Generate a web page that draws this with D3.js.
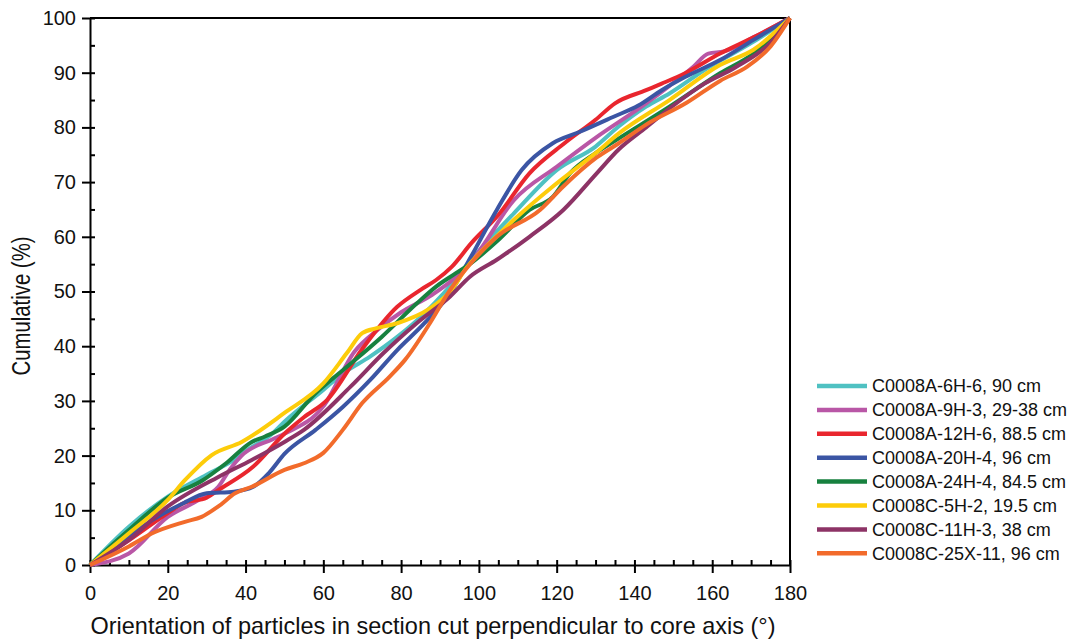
<!DOCTYPE html>
<html>
<head>
<meta charset="utf-8">
<script src="https://cdn.jsdelivr.net/npm/d3@7"></script>
<style>
  body { margin: 0; background: #fff; }
  svg { display: block; font-family: "Liberation Sans", Arial, Helvetica, sans-serif; }
  .axis path, .axis line { stroke: #000; stroke-width: 2; }
  .axis text { fill: #111; }
</style>
</head>
<body>
<main></main>
<script>
// series as [orientation (deg), cumulative (%)]
let s6H6 = [[0,0],[10,7],[20,12.5],[30,16.5],[37,19.2],[40,20.8],[47,24.1],[50,26.2],[60,32],[65,35],[72,38.1],[79,41.7],[86,46],[91,49.7],[98,55.8],[109,64.3],[120,72.2],[130,76.5],[136,80.2],[143,83.8],[149,86.2],[158,90.5],[170,95.4],[180,100]];
let s9H3 = [[0,0],[10,2.1],[20,8.8],[28,11.9],[33,14.3],[36,17.5],[39,20],[47,23],[50,24],[60,29],[68,39],[74,43],[80,46.2],[88,49.4],[93,52],[99,56.4],[109,66.7],[120,72.8],[130,78.1],[143,84.4],[149,87.6],[155,91],[159,93.5],[163,93.9],[171,96.6],[180,100]];
let s12H6 = [[0,0],[10,4.5],[20,9.5],[24,11.3],[30,12.3],[33,13.7],[42,18],[50,24],[55,27],[61,30.2],[70,39.5],[79,47.2],[85,50.3],[89,52.1],[93,54.5],[98,58.8],[105,64],[113,71.6],[122,77.1],[130,81.4],[135,84.4],[143,86.8],[147,88],[153,89.9],[162,93.5],[171,96.6],[180,100]];
let s20H4 = [[0,0],[10,5.3],[16,8.2],[24,11.3],[30,13.1],[37,13.4],[42,14.3],[46,16.8],[50,20.3],[58,24.7],[65,28.9],[72,33.8],[79,39.3],[86,44.2],[92.6,49.7],[98,56.4],[104.6,64.9],[111,72.2],[119,77.1],[126,79.2],[134.5,81.9],[141,84],[147,86.8],[153,89.2],[162,92.3],[170.6,96],[180,100]];
let s24H4 = [[0,0],[10,6.4],[20,12.3],[29,15.5],[35,18.6],[41.6,22.5],[45,23.5],[50,25.3],[58,31.4],[65,35.6],[75,41.7],[84,47.8],[89,50.9],[94,53.3],[98,55.2],[105,59.4],[113,64.9],[119,67.3],[123.4,71.6],[130,75.3],[136,78],[149,83.8],[162,89.9],[170.6,93.5],[180,100]];
let s5H2 = [[0,0],[10,5.8],[20,11.9],[24.4,15.5],[31.3,20.1],[39,22.5],[50,27.8],[60,33.2],[66,38.7],[70,42.4],[73.7,43.3],[79,44.2],[87.4,46.9],[92.6,50],[97,54.5],[103,59],[109,63.1],[119,69.2],[130,75.3],[136,78.9],[149,85],[162,91.4],[170.6,94.2],[180,100]];
let s11H3 = [[0,0],[10,4.6],[20,10.7],[33,16.1],[41.6,19.2],[50,22.5],[55,24.7],[67,32.6],[75.4,38.7],[84,44.2],[92.6,49.1],[97.7,52.7],[104.6,55.8],[113,60],[121.7,64.9],[130.3,71.6],[136,76],[143,80],[150,84],[158,88],[166,91],[175,95.5],[180,100]];
let s25X11 = [[0,0],[10,3.4],[16,5.8],[24.4,7.9],[28.7,8.8],[33,10.7],[37.3,13.1],[41.6,14.3],[50,17.4],[55,18.6],[60,20.5],[65,24.7],[70,29.6],[77,34.4],[81,37.5],[87.4,44.2],[92.6,50.3],[98,55.2],[104.6,60],[115.7,64.9],[121.7,69.2],[130.3,74.5],[136,77.1],[143,80.5],[153.4,84.5],[162,88.5],[169,91.1],[175,94.8],[180,100]];

let seriesNames = [
  'C0008A-6H-6, 90 cm',
  'C0008A-9H-3, 29-38 cm',
  'C0008A-12H-6, 88.5 cm',
  'C0008A-20H-4, 96 cm',
  'C0008A-24H-4, 84.5 cm',
  'C0008C-5H-2, 19.5 cm',
  'C0008C-11H-3, 38 cm',
  'C0008C-25X-11, 96 cm'
];
let seriesValues = [s6H6, s9H3, s12H6, s20H4, s24H4, s5H2, s11H3, s25X11];
let seriesColors = ['#4fc1c2', '#b957a6', '#e9262e', '#3b55a4', '#17813f', '#fdcc0a', '#8d3366', '#f26b2b'];

let xMajorTicks = d3.range(0, 181, 20);
let xMinorTicks = d3.range(0, 181, 5);
let yMajorTicks = d3.range(0, 101, 10);
let yMinorTicks = d3.range(0, 101, 5);

let width = 1077;
let height = 641;
let margin = { top: 18, left: 90, right: 287, bottom: 76 };

let svg = d3.select('main')
  .append('svg')
  .attr('width', width)
  .attr('height', height);

let x = d3.scaleLinear().domain([0, 180]).range([margin.left, width - margin.right]);
let y = d3.scaleLinear().domain([0, 100]).range([height - margin.bottom, margin.top]);

// frame: top and right borders
svg.append('line')
  .attr('x1', x(0)).attr('x2', x(180))
  .attr('y1', y(100)).attr('y2', y(100))
  .attr('stroke', '#000').attr('stroke-width', 2);
svg.append('line')
  .attr('x1', x(180)).attr('x2', x(180))
  .attr('y1', y(100)).attr('y2', y(0))
  .attr('stroke', '#000').attr('stroke-width', 2);

// inward minor ticks
svg.append('g')
  .attr('class', 'axis')
  .attr('transform', `translate(${x(0)},0)`)
  .call(d3.axisLeft(y).tickValues(yMinorTicks).tickSize(-5).tickFormat(''))
  .call(g => g.select('.domain').remove());
svg.append('g')
  .attr('class', 'axis')
  .attr('transform', `translate(0,${y(0)})`)
  .call(d3.axisBottom(x).tickValues(xMinorTicks).tickSize(-5).tickFormat(''))
  .call(g => g.select('.domain').remove());

// major ticks + labels
svg.append('g')
  .attr('class', 'axis')
  .attr('transform', `translate(${x(0)},0)`)
  .call(d3.axisLeft(y).tickValues(yMajorTicks).tickSize(8).tickSizeOuter(0).tickPadding(6))
  .call(g => g.selectAll('text').style('font-size', '20px'));
svg.append('g')
  .attr('class', 'axis')
  .attr('transform', `translate(0,${y(0)})`)
  .call(d3.axisBottom(x).tickValues(xMajorTicks).tickSize(8).tickSizeOuter(0).tickPadding(13))
  .call(g => g.selectAll('text').style('font-size', '20px'));

// axis titles
svg.append('text')
  .attr('x', 433)
  .attr('y', 634)
  .attr('text-anchor', 'middle')
  .attr('textLength', 685)
  .attr('lengthAdjust', 'spacingAndGlyphs')
  .style('font-size', '24px')
  .attr('fill', '#111')
  .text('Orientation of particles in section cut perpendicular to core axis (°)');

svg.append('text')
  .attr('transform', 'translate(30,306) rotate(-90)')
  .attr('text-anchor', 'middle')
  .attr('textLength', 139)
  .attr('lengthAdjust', 'spacingAndGlyphs')
  .style('font-size', '25px')
  .attr('fill', '#111')
  .text('Cumulative (%)');

// lines
let line = d3.line()
  .x(d => x(d[0]))
  .y(d => y(d[1]))
  .curve(d3.curveMonotoneX);

svg.append('g')
  .selectAll('path')
  .data(seriesValues)
  .enter().append('path')
  .attr('d', line)
  .attr('fill', 'none')
  .attr('stroke', (d, i) => seriesColors[i])
  .attr('stroke-width', 4)
  .attr('stroke-linejoin', 'round');

// legend
let legend = svg.append('g')
  .attr('transform', 'translate(817,386)');

let items = legend.selectAll('g')
  .data(seriesNames)
  .enter().append('g')
  .attr('transform', (d, i) => `translate(0,${i * 23.9})`);

items.append('line')
  .attr('x1', 0).attr('x2', 50)
  .attr('stroke', (d, i) => seriesColors[i])
  .attr('stroke-width', 4.5);

items.append('text')
  .attr('x', 55)
  .attr('dy', '0.36em')
  .style('font-size', '18px')
  .attr('fill', '#111')
  .text(d => d);
</script>
</body>
</html>
